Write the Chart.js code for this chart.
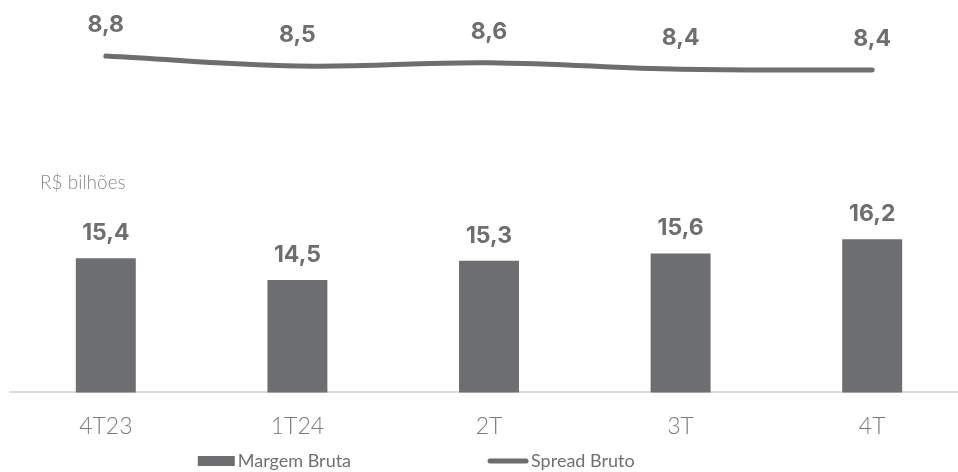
<!DOCTYPE html>
<html>
<head>
<meta charset="utf-8">
<script src="https://cdn.jsdelivr.net/npm/chart.js@4"></script>
<style>
  html, body { margin: 0; padding: 0; background: #fff; overflow: hidden; }
  #wrap { width: 958px; height: 472px; overflow: hidden; }
</style>
</head>
<body>
<div id="wrap"><canvas id="chart" width="968" height="472"></canvas></div>
<script>
// -------------------------
// DATA
// -------------------------
const quarters = ["4T23", "1T24", "2T", "3T", "4T"];
const margemBruta = [15.4, 14.5, 15.3, 15.6, 16.2];
const spreadBruto = [8.8, 8.5, 8.6, 8.4, 8.38];
const spreadLabels = ["8,8", "8,5", "8,6", "8,4", "8,4"];

const GRAY = "#6d6e71";
const TEXT = "#6e6e6e";

function fmt(v) {
  return v.toFixed(1).replace(".", ",");
}

// -------------------------
// VALUE LABELS
// -------------------------
const valueLabels = {
  id: "valueLabels",
  afterDatasetsDraw(chart) {
    const ctx = chart.ctx;
    ctx.save();
    ctx.fillStyle = TEXT;
    ctx.font = "700 23px Inter, 'Open Sans', sans-serif";
    ctx.textAlign = "center";
    ctx.textBaseline = "middle";

    chart.getDatasetMeta(0).data.forEach((el, i) => {
      ctx.fillText(fmt(margemBruta[i]), el.x, el.y - 25);
    });
    chart.getDatasetMeta(1).data.forEach((el, i) => {
      ctx.fillText(spreadLabels[i], el.x, el.y - 31);
    });
    ctx.restore();
  }
};

// -------------------------
// UNIT NOTE + LEGEND
// -------------------------
const extras = {
  id: "extras",
  afterDraw(chart) {
    const ctx = chart.ctx;
    const area = chart.chartArea;
    ctx.save();

    ctx.fillStyle = "#8a8a8a";
    ctx.font = "300 19px Lato, sans-serif";
    ctx.textAlign = "left";
    ctx.textBaseline = "middle";
    ctx.fillText("R$ bilhões", 40, 183);

    const ly = 461;
    const x1 = area.left + area.width * 0.196;
    const x2 = area.left + area.width * 0.499;

    ctx.fillStyle = GRAY;
    ctx.fillRect(x1, ly - 5, 37, 10);

    ctx.strokeStyle = GRAY;
    ctx.lineWidth = 5;
    ctx.lineCap = "round";
    ctx.beginPath();
    ctx.moveTo(x2 + 2, ly);
    ctx.lineTo(x2 + 38, ly);
    ctx.stroke();

    ctx.fillStyle = "#707070";
    ctx.font = "18px Lato, sans-serif";
    ctx.fillText("Margem Bruta", x1 + 40, ly);
    ctx.fillText("Spread Bruto", x2 + 43, ly);
    ctx.restore();
  }
};

// -------------------------
// CHART
// -------------------------
new Chart(document.getElementById("chart"), {
  data: {
    labels: quarters,
    datasets: [
      {
        type: "bar",
        label: "Margem Bruta",
        data: margemBruta,
        backgroundColor: GRAY,
        barPercentage: 0.313,
        categoryPercentage: 1,
        yAxisID: "y",
        order: 2
      },
      {
        type: "line",
        label: "Spread Bruto",
        data: spreadBruto,
        borderColor: GRAY,
        borderWidth: 5,
        borderCapStyle: "round",
        tension: 0.4,
        pointRadius: 0,
        fill: false,
        yAxisID: "y2",
        order: 1
      }
    ]
  },
  options: {
    responsive: false,
    animation: false,
    layout: { padding: { left: 10, right: 0, top: 10, bottom: 12 } },
    plugins: {
      legend: { display: false },
      tooltip: { enabled: false }
    },
    scales: {
      x: {
        grid: { display: false, drawTicks: false },
        border: { display: true, color: "#dcdcdc", width: 2 },
        ticks: {
          color: "#7a7a7a",
          padding: 20,
          font: { family: "Lato, sans-serif", size: 23, weight: "300" }
        }
      },
      y: { display: false, min: 9.82, max: 25.74 },
      y2: { display: false, min: -1.29, max: 10.18 }
    }
  },
  plugins: [valueLabels, extras]
});
</script>
</body>
</html>
